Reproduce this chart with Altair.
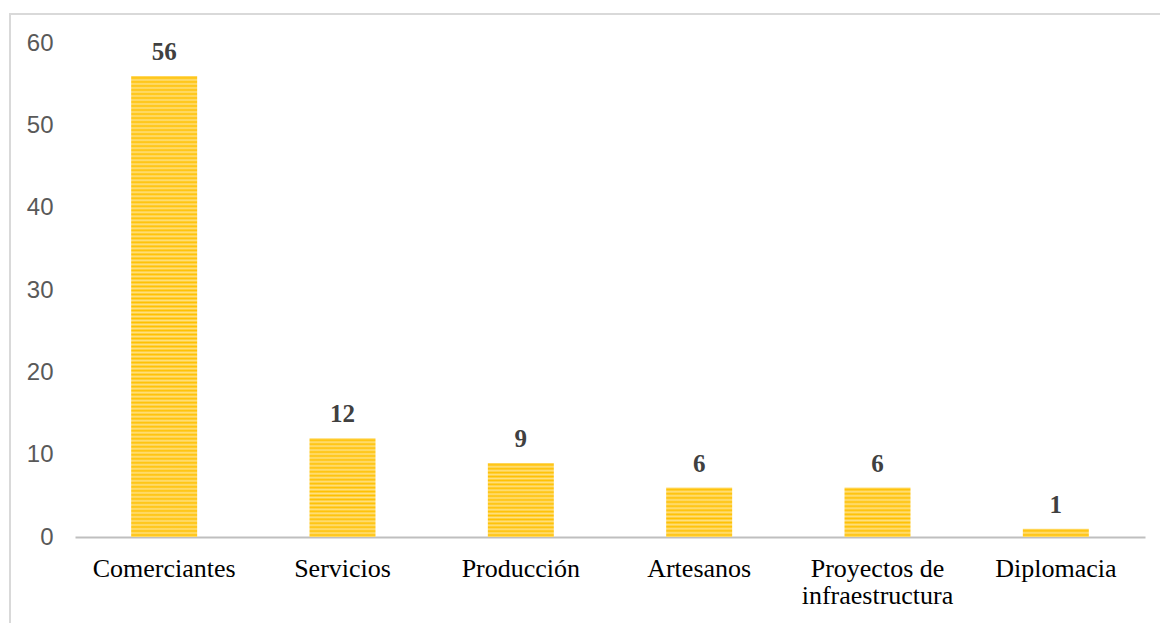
import altair as alt
import pandas as pd

categories = ["Comerciantes", "Servicios", "Producción", "Artesanos",
              "Proyectos de infraestructura", "Diplomacia"]
values = [56, 12, 9, 6, 6, 1]
y_ticks = [0, 10, 20, 30, 40, 50, 60]

df = pd.DataFrame({"cat": categories, "val": values})

W, H = 1070, 494
Y_MAX = 60
GOLD = "#FFC000"
LIGHT = "#FFE080"
PERIOD = 4.0

def stripe_gradient(v):
    h = v * H / Y_MAX
    n = max(1, int(round(h / PERIOD)))
    stops = []
    for i in range(n):
        a = i / n
        stops += [
            {"offset": a, "color": LIGHT},
            {"offset": a + 0.5 / n, "color": GOLD},
        ]
    stops.append({"offset": 1.0, "color": LIGHT})
    return {"gradient": "linear", "x1": 0, "y1": 0, "x2": 0, "y2": 1, "stops": stops}

x_enc = alt.X("cat:N", sort=categories,
              scale=alt.Scale(domain=categories, paddingInner=0.63, paddingOuter=0.315),
              axis=alt.Axis(title=None, labelAngle=0, ticks=False, domainColor="#BFBFBF",
                            domainWidth=2, labelFont="Liberation Serif", labelFontSize=26,
                            labelColor="#000000", labelPadding=39, labelLineHeight=27,
                            labelBaseline="alphabetic",
                            labelExpr="datum.label == 'Proyectos de infraestructura' ? ['Proyectos de', 'infraestructura'] : datum.label"))
y_enc = alt.Y("val:Q", scale=alt.Scale(domain=[0, Y_MAX], nice=False),
              axis=alt.Axis(title=None, values=y_ticks, grid=False, ticks=False, domain=False,
                            labelFont="Liberation Sans", labelFontSize=24, labelColor="#595959",
                            labelPadding=22))

border = alt.Chart(pd.DataFrame({"a": [0]})).mark_rect(
    fill="transparent", stroke="#D9D9D9", strokeWidth=2
).encode(x=alt.value(-65), x2=alt.value(1300), y=alt.value(-29), y2=alt.value(800))

layers = [border]
for c, v in zip(categories, values):
    layers.append(
        alt.Chart(df).transform_filter(alt.datum.cat == c)
        .mark_bar(fill=stripe_gradient(v))
        .encode(x=x_enc, y=y_enc)
    )

text = alt.Chart(df).mark_text(
    font="Liberation Serif", fontSize=25, fontWeight="bold", color="#404040",
    baseline="alphabetic", dy=-16
).encode(x=alt.X("cat:N", sort=categories), y="val:Q", text="val:Q")
layers.append(text)

chart = alt.layer(*layers).properties(
    width=W, height=H,
    background="white",
    autosize=alt.AutoSizeParams(type="none"),
    padding={"left": 75, "top": 43, "right": 15, "bottom": 86},
).configure_view(strokeWidth=0, stroke="transparent")

chart.save("out.html", embed_options={"renderer": "svg", "actions": False})
